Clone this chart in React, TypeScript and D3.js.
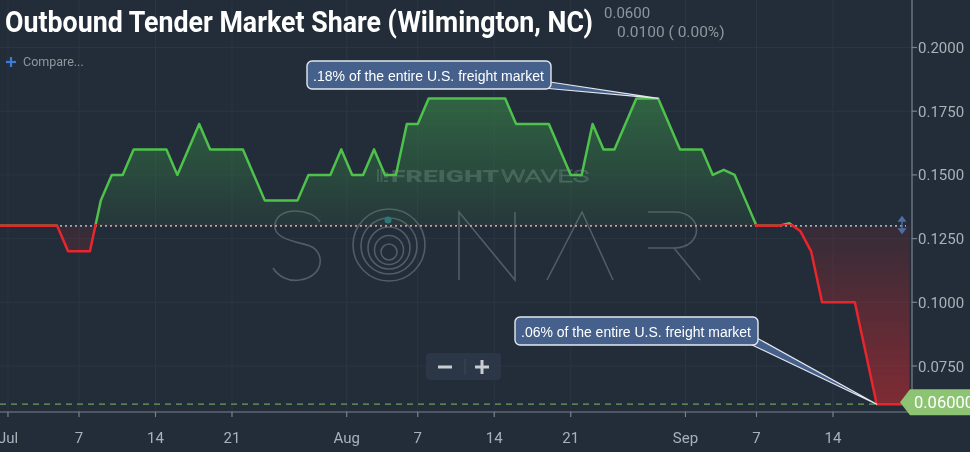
import * as React from 'react'
import * as d3 from 'd3'

const width = 970
const height = 452
const plotRight = 912
const plotBottom = 412
const bg = '#232d39'
const green = '#4ec24b'
const red = '#e8262c'
const tickColor = '#a9b1b9'

// daily values starting at startDay
const startDay = '2019-06-29'
const shareValues = [
  0.13, 0.13, 0.13, 0.13, 0.13, 0.13, 0.13, 0.12, 0.12, 0.12,
  0.14, 0.15, 0.15, 0.16, 0.16, 0.16, 0.16, 0.15, 0.16, 0.17,
  0.16, 0.16, 0.16, 0.16, 0.15, 0.14, 0.14, 0.14, 0.14, 0.15,
  0.15, 0.15, 0.16, 0.15, 0.15, 0.16, 0.15, 0.15, 0.17, 0.17,
  0.18, 0.18, 0.18, 0.18, 0.18, 0.18, 0.18, 0.18, 0.17, 0.17,
  0.17, 0.17, 0.16, 0.15, 0.15, 0.17, 0.16, 0.16, 0.17, 0.18,
  0.18, 0.18, 0.17, 0.16, 0.16, 0.16, 0.15, 0.152, 0.15, 0.14,
  0.13, 0.13, 0.13, 0.131, 0.128, 0.12, 0.10, 0.10, 0.10, 0.10,
  0.08, 0.06, 0.06, 0.06, 0.06,
]
const baseline = 0.13
const lastValue = 0.06
const headerValue = '0.0600'
const headerChange = '0.0100 ( 0.00%)'

const xTickDates = [
  '2019-06-30T12:00', '2019-07-07T00:00', '2019-07-14T00:00', '2019-07-21T00:00',
  '2019-07-31T12:00', '2019-08-07T00:00', '2019-08-14T00:00', '2019-08-21T00:00',
  '2019-08-31T12:00', '2019-09-07T00:00', '2019-09-14T00:00',
]
const xTickLabels = ['Jul', '7', '14', '21', 'Aug', '7', '14', '21', 'Sep', '7', '14']
const yTicks = [0.075, 0.1, 0.125, 0.15, 0.175, 0.2]

const noteTexts = ['.18% of the entire U.S. freight market', '.06% of the entire U.S. freight market']
const noteDates = ['2019-08-29T00:00', '2019-09-18T00:00']
const noteValues = [0.18, 0.06]
const noteBoxes = [
  { x: 307, y: 61, w: 244, h: 28 },
  { x: 515, y: 317, w: 243, h: 28 },
]

const parse = d3.timeParse('%Y-%m-%dT%H:%M')

const App = () => {
  const start = parse(startDay + 'T00:00') as Date
  const data = shareValues.map((v, i) => ({ date: d3.timeDay.offset(start, i), value: v }))

  const xScale = d3
    .scaleTime()
    .domain([parse('2019-07-07T00:00') as Date, parse('2019-09-14T00:00') as Date])
    .range([79, 833])
  const yScale = d3.scaleLinear().domain([0.075, 0.2]).range([366, 47.5])
  const yBase = yScale(baseline)

  const line = d3
    .line<{ date: Date; value: number }>()
    .x(d => xScale(d.date))
    .y(d => yScale(d.value))
  const area = d3
    .area<{ date: Date; value: number }>()
    .x(d => xScale(d.date))
    .y0(yBase)
    .y1(d => yScale(d.value))

  const yLast = yScale(lastValue)

  return (
    <svg
      width={width}
      height={height}
      style={{ position: 'absolute', left: 0, top: 0, display: 'block' }}
    >
      <defs>
        <clipPath id="plot">
          <rect x={0} y={0} width={plotRight} height={plotBottom} />
        </clipPath>
        <clipPath id="above">
          <rect x={0} y={0} width={plotRight} height={yBase - 0.8} />
        </clipPath>
        <clipPath id="below">
          <rect x={0} y={yBase - 1.8} width={plotRight} height={plotBottom - yBase + 1.8} />
        </clipPath>
        <linearGradient id="gUp" gradientUnits="userSpaceOnUse" x1={0} x2={0} y1={yScale(0.18)} y2={yBase}>
          <stop offset="0" stopColor="#3d9a4c" stopOpacity={0.5} />
          <stop offset="1" stopColor="#3d9a4c" stopOpacity={0.1} />
        </linearGradient>
        <linearGradient id="gDown" gradientUnits="userSpaceOnUse" x1={0} x2={0} y1={yBase} y2={yLast}>
          <stop offset="0" stopColor="#d42a30" stopOpacity={0.1} />
          <stop offset="1" stopColor="#d42a30" stopOpacity={0.52} />
        </linearGradient>
      </defs>
      <rect x={0} y={0} width={width} height={height} fill={bg} />

      {/* grid */}
      <g stroke="#2b3643" strokeWidth={1}>
        {xTickDates.map(t => (
          <line key={t} x1={xScale(parse(t) as Date)} x2={xScale(parse(t) as Date)} y1={0} y2={plotBottom} />
        ))}
        {yTicks.map(t => (
          <line key={t} x1={0} x2={plotRight} y1={yScale(t)} y2={yScale(t)} />
        ))}
      </g>

      {/* watermark */}
      <g opacity={0.85}>
        <g fill="#6d7880" opacity={0.55}>
          <rect x={377} y={169} width={2} height={13} />
          <rect x={380.5} y={169} width={2} height={13} />
          <rect x={384} y={172} width={4} height={2} />
          <rect x={384} y={176} width={4} height={2} />
          <rect x={384} y={180} width={4} height={2} />
        </g>
        <text x={391} y={182} fontFamily="Roboto" fontWeight={900} fontSize={17} fill="#6d7880" opacity={0.6} textLength={108} lengthAdjust="spacingAndGlyphs">
          FREIGHT
        </text>
        <text x={501} y={182} fontFamily="Roboto" fontWeight={300} fontSize={17} fill="none" stroke="#6d7880" strokeWidth={0.8} opacity={0.7} textLength={88} lengthAdjust="spacingAndGlyphs">
          WAVES
        </text>
        <g fill="none" stroke="#5b6570" strokeWidth={1.6}>
          <path d="M320,222 C312,208 278,206 275,224 C272,240 300,242 310,246 C325,252 325,276 300,280 C288,282 278,276 273,268" />
          <circle cx={389} cy={245} r={36} />
          <circle cx={389} cy={246} r={28} />
          <circle cx={389} cy={248} r={21} />
          <circle cx={389} cy={250} r={14.5} />
          <circle cx={389} cy={252} r={8} />
          <path d="M459,280 L459,212 L515,280 L515,212" />
          <path d="M547,280 L582,212 L613,280" />
          <path d="M648,212 L674,212 C704,212 704,248 674,248 L648,248 M674,248 L700,280" />
        </g>
        <circle cx={388} cy={220} r={3.5} fill="#2e7f8c" />
      </g>

      {/* areas */}
      <g clipPath="url(#plot)">
        <path d={area(data) ?? ''} fill="url(#gUp)" clipPath="url(#above)" />
        <path d={area(data) ?? ''} fill="url(#gDown)" clipPath="url(#below)" />
      </g>

      {/* reference lines */}
      <line x1={0} x2={900} y1={yLast} y2={yLast} stroke="#6e9e58" strokeWidth={1.2} strokeDasharray="6 5" />
      <line x1={0} x2={906} y1={yBase} y2={yBase} stroke="#a3acb6" strokeWidth={1.8} strokeDasharray="2 3" />
      <g stroke="#4d6fa5" strokeWidth={1.5} fill="#4d6fa5">
        <line x1={902} x2={902} y1={219} y2={231} />
        <path d="M899,221 L902,217 L905,221 Z" />
        <path d="M899,229 L902,233 L905,229 Z" />
      </g>

      {/* line */}
      <g clipPath="url(#plot)">
        <g clipPath="url(#above)">
          <path d={line(data) ?? ''} fill="none" stroke={green} strokeWidth={2.5} strokeLinejoin="round" />
        </g>
        <g clipPath="url(#below)">
          <path d={line(data) ?? ''} fill="none" stroke={red} strokeWidth={2.5} strokeLinejoin="round" />
        </g>
      </g>

      {/* axes */}
      <g stroke="#7b848e" strokeWidth={1.2}>
        <line x1={plotRight} x2={plotRight} y1={0} y2={plotBottom} />
        <line x1={0} x2={plotRight} y1={plotBottom} y2={plotBottom} />
        {xTickDates.map(t => (
          <line key={t} x1={xScale(parse(t) as Date)} x2={xScale(parse(t) as Date)} y1={plotBottom} y2={plotBottom + 5} />
        ))}
        {yTicks.map(t => (
          <line key={t} x1={plotRight} x2={plotRight + 5} y1={yScale(t)} y2={yScale(t)} />
        ))}
      </g>
      <g fontFamily="Roboto" fontSize={15} fill={tickColor}>
        {xTickDates.map((t, i) => (
          <text key={t} x={xScale(parse(t) as Date)} y={443} textAnchor="middle">
            {xTickLabels[i]}
          </text>
        ))}
        {yTicks.map(t => (
          <text key={t} x={918} y={yScale(t) + 5.5}>
            {d3.format('.4f')(t)}
          </text>
        ))}
      </g>

      {/* last value label */}
      <path
        d={`M900,${yLast - 2} L910,${yLast - 15} L${width},${yLast - 15} L${width},${yLast + 11} L910,${yLast + 11} Z`}
        fill="#8cc474"
      />
      <text x={914} y={yLast + 4} fontFamily="Roboto" fontSize={16.5} fill="#ffffff">
        {d3.format('.5f')(lastValue)}
      </text>

      {/* annotations */}
      {noteTexts.map((txt, i) => {
        const b = noteBoxes[i]
        const tx = xScale(parse(noteDates[i]) as Date)
        const ty = yScale(noteValues[i])
        return (
          <g key={txt}>
            <path
              d={`M${b.x + b.w - 8},${b.y + b.h - 1} L${tx},${ty} L${b.x + b.w - 1},${b.y + b.h - 7} Z`}
              fill="#46608c"
              stroke="#e4e8ee"
              strokeWidth={1.2}
              strokeLinejoin="round"
            />
            <rect x={b.x} y={b.y} width={b.w} height={b.h} rx={5} fill="#46608c" stroke="#e4e8ee" strokeWidth={1.4} />
            <path d={`M${b.x + b.w - 9},${b.y + b.h - 1.5} L${b.x + b.w - 1.5},${b.y + b.h - 8}`} stroke="#46608c" strokeWidth={2.2} />
            <text x={b.x + 6} y={b.y + 19.5} fontFamily="Liberation Sans" fontSize={14} fill="#ffffff" textLength={b.w - 13} lengthAdjust="spacingAndGlyphs">
              {txt}
            </text>
          </g>
        )
      })}

      {/* zoom control */}
      <rect x={426} y={353} width={75} height={27} rx={4} fill="#2b3746" />
      <line x1={465} x2={465} y1={359} y2={375} stroke="#3c4858" strokeWidth={1} />
      <g stroke="#c8cdd2" strokeWidth={3}>
        <line x1={438} x2={452} y1={367} y2={367} />
        <line x1={475} x2={489} y1={367} y2={367} />
        <line x1={482} x2={482} y1={360} y2={374} />
      </g>

      {/* header */}
      <text x={5} y={32} fontFamily="Roboto" fontWeight={700} fontSize={30} fill="#ffffff" textLength={588} lengthAdjust="spacingAndGlyphs">
        Outbound Tender Market Share (Wilmington, NC)
      </text>
      <text x={604} y={18} fontFamily="Roboto" fontSize={15} fill="#8d959d">
        {headerValue}
      </text>
      <text x={617} y={37} fontFamily="Roboto" fontSize={15.5} fill="#8d959d">
        {headerChange}
      </text>
      <g stroke="#3d7bd9" strokeWidth={2.2}>
        <line x1={6} x2={16} y1={62} y2={62} />
        <line x1={11} x2={11} y1={57} y2={67} />
      </g>
      <text x={23} y={66} fontFamily="Roboto" fontSize={12.5} fill="#8f979f">
        Compare...
      </text>
    </svg>
  )
}

export default App
